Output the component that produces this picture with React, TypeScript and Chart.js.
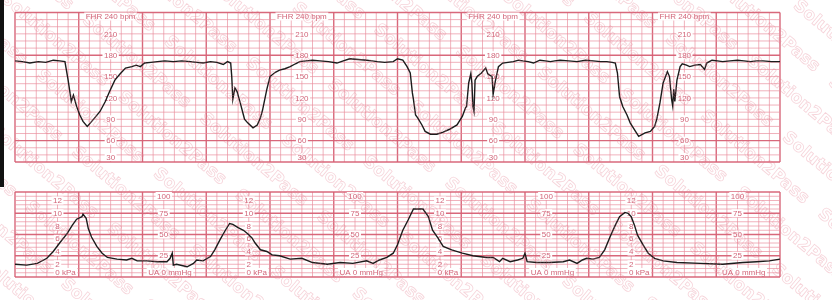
import React, { useEffect, useRef } from "react";
import { Chart, registerables } from "chart.js";
Chart.register(...registerables);

// ---- FHR (fetal heart rate) trace: time in seconds, value in bpm ----
const fhrSeconds = [
  0, 7, 14, 22, 29, 36, 42, 47, 50, 53, 55, 58, 61, 64, 68, 71, 75, 80, 85, 89, 94, 99, 104, 110, 114, 118,
  122, 128, 134, 141, 149, 157, 165, 171, 177, 184, 190, 196, 200, 203, 204, 205, 207, 209, 212, 215, 216,
  219, 224, 228, 231, 233, 237, 240, 245, 249, 254, 259, 264, 268, 274, 280, 287, 295, 303, 309, 315, 323,
  331, 336, 341, 348, 356, 360, 365, 369, 372, 374, 375, 377, 379, 383, 386, 391, 397, 403, 409, 416, 421,
  424, 425, 427, 429, 430, 431, 432, 433, 435, 439, 443, 445, 449, 450, 452, 455, 459, 464, 469, 474, 478,
  483, 488, 494, 499, 504, 508, 513, 521, 529, 537, 544, 551, 557, 562, 565, 567, 569, 572, 576, 579, 584,
  587, 593, 598, 602, 604, 607, 610, 614, 616, 618, 619, 620, 621, 623, 626, 628, 632, 635, 640, 645, 649,
  651, 656, 661, 666, 673, 680, 686, 692, 698, 704, 712, 720,
];
const fhrBpm = [
  172, 171, 169, 171, 170, 173, 172, 171, 145, 115, 124, 108, 96, 87, 80, 85, 92, 101, 115, 129, 145, 154, 162, 164, 166, 164,
  169, 170, 171, 172, 171, 172, 171, 170, 169, 171, 170, 167, 171, 169, 150, 118, 134, 129, 113, 96, 90,
  85, 78, 82, 92, 103, 132, 150, 156, 159, 161, 164, 168, 171, 172, 173, 172, 171, 169, 172, 175, 174,
  173, 172, 171, 170, 171, 175, 173, 164, 155, 127, 118, 96, 92, 82, 73, 69, 69, 72, 76, 82, 94,
  106, 108, 141, 154, 141, 108, 101, 145, 150, 155, 162, 154, 150, 125, 143, 164, 169, 170, 171, 173, 172,
  171, 169, 173, 172, 171, 172, 173, 172, 171, 173, 172, 171, 171, 170, 169, 155, 122, 108, 96, 85, 73,
  66, 71, 73, 80, 90, 113, 141, 157, 150, 118, 109, 132, 115, 145, 164, 168, 166, 164, 166, 167, 160,
  169, 173, 172, 171, 172, 173, 172, 171, 172, 172, 171, 171,
];

// ---- UA (uterine activity) trace: time in seconds, value in mmHg ----
const uaSeconds = [
  0, 11, 21, 30, 36, 42, 49, 54, 58, 63, 64, 67, 69, 72, 77, 82, 87, 96, 105, 110, 115, 124, 134, 143, 146,
  148, 149, 152, 162, 168, 171, 177, 184, 188, 193, 198, 202, 205, 210, 215, 219, 223, 226, 231, 237, 242,
  249, 259, 270, 280, 294, 306, 318, 331, 337, 343, 350, 356, 360, 365, 370, 375, 384, 389, 393, 398, 403,
  411, 421, 431, 444, 450, 456, 459, 466, 473, 478, 480, 482, 491, 503, 516, 522, 529, 534, 538, 544, 550,
  555, 560, 565, 569, 574, 577, 580, 583, 586, 591, 596, 602, 610, 623, 645, 666, 685, 698, 710, 720,
];
const uaMmHg = [
  15, 14, 16, 22, 30, 40, 51, 61, 68, 71, 74, 69, 57, 47, 36, 28, 23, 21, 20, 22, 19, 19, 18, 18, 22,
  28, 14, 15, 12, 16, 20, 19, 24, 32, 44, 55, 63, 62, 58, 55, 51, 46, 40, 32, 30, 26,
  25, 21, 22, 17, 15, 17, 16, 19, 16, 20, 23, 28, 38, 55, 67, 80, 80, 71, 55, 46, 36,
  32, 28, 25, 23, 23, 18, 22, 18, 20, 22, 28, 18, 17, 17, 18, 20, 16, 20, 22, 21, 23,
  32, 47, 61, 71, 76, 75, 71, 61, 49, 38, 28, 22, 19, 17, 16, 15, 17, 18, 19, 21,
];

// ---- tick labels printed on the paper ----
const fhrTickLabels = [210, 180, 150, 120, 90, 60];
const fhrLabelColumns = [90, 270, 450, 630];
const kpaTickLabels = [12, 10, 8, 6, 4, 2];
const kpaLabelColumns = [40, 220, 400, 580];
const mmHgTickLabels = [75, 50, 25];
const mmHgLabelColumns = [140, 320, 500, 680];

const THIN = "rgba(232,140,155,0.75)";
const THICK = "rgba(214,96,116,0.95)";
const LABEL = "#d2667a";
const FONT = '8px "Liberation Sans", Arial, sans-serif';

function label(ctx: CanvasRenderingContext2D, text: string, cx: number, cy: number, anchor?: string) {
  ctx.font = FONT;
  const w = ctx.measureText(text).width;
  let left = cx - w / 2;
  if (anchor) {
    const idx = text.indexOf(anchor);
    const pre = ctx.measureText(text.slice(0, idx)).width;
    const aw = ctx.measureText(anchor).width;
    left = cx - pre - aw / 2;
  }
  ctx.fillStyle = "#ffffff";
  ctx.fillRect(left - 1.5, cy - 4, w + 3, 8);
  ctx.fillStyle = LABEL;
  ctx.textBaseline = "middle";
  ctx.textAlign = "left";
  ctx.fillText(text, left, cy + 0.5);
}

function drawGrid(chart: any, hStep: number, thickH: number[]) {
  const { ctx, chartArea: a, scales } = chart;
  const x = scales.x;
  const y = scales.y;
  ctx.save();
  ctx.fillStyle = "#ffffff";
  ctx.fillRect(a.left, a.top, a.right - a.left, a.bottom - a.top);
  // vertical
  for (let s = 0; s <= 720; s += 10) {
    const px = x.getPixelForValue(s);
    const thick = s % 60 === 0;
    ctx.strokeStyle = thick ? THICK : THIN;
    ctx.lineWidth = thick ? 1.4 : 0.9;
    ctx.beginPath();
    ctx.moveTo(px, a.top);
    ctx.lineTo(px, a.bottom);
    ctx.stroke();
  }
  // horizontal
  for (let v = y.min; v <= y.max + 0.001; v += hStep) {
    const py = y.getPixelForValue(v);
    const thick = thickH.includes(v) || v === y.min || v === y.max;
    ctx.strokeStyle = thick ? THICK : THIN;
    ctx.lineWidth = thick ? 1.4 : 0.9;
    ctx.beginPath();
    ctx.moveTo(a.left, py);
    ctx.lineTo(a.right, py);
    ctx.stroke();
  }
  ctx.restore();
}

const fhrPaper = {
  id: "fhrPaper",
  beforeDatasetsDraw(chart: any) {
    drawGrid(chart, 10, [60, 180]);
    const { ctx, scales } = chart;
    const x = scales.x;
    const y = scales.y;
    ctx.save();
    for (const c of fhrLabelColumns) {
      const cx = x.getPixelForValue(c);
      label(ctx, "FHR 240 bpm", cx, y.getPixelForValue(240) + 4);
      for (const v of fhrTickLabels) label(ctx, String(v), cx, y.getPixelForValue(v));
      label(ctx, "30", cx, y.getPixelForValue(30) - 5);
    }
    ctx.restore();
  },
};

const uaPaper = {
  id: "uaPaper",
  beforeDatasetsDraw(chart: any) {
    drawGrid(chart, 5, [25, 50, 75]);
    const { ctx, scales } = chart;
    const x = scales.x;
    const y = scales.y;
    ctx.save();
    for (const c of kpaLabelColumns) {
      const cx = x.getPixelForValue(c);
      for (const k of kpaTickLabels) label(ctx, String(k), cx, y.getPixelForValue(k * 7.5));
      label(ctx, "0 kPa", cx, y.getPixelForValue(0) - 5, "0");
    }
    for (const c of mmHgLabelColumns) {
      const cx = x.getPixelForValue(c);
      label(ctx, "100", cx, y.getPixelForValue(100) + 4);
      for (const m of mmHgTickLabels) label(ctx, String(m), cx, y.getPixelForValue(m));
      label(ctx, "UA 0 mmHg", cx, y.getPixelForValue(0) - 5, "0");
    }
    ctx.restore();
  },
};

function makeChart(canvas: HTMLCanvasElement, xs: number[], ys: number[], yMin: number, yMax: number, padding: any, plugin: any) {
  return new Chart(canvas, {
    type: "line",
    data: {
      datasets: [
        {
          data: xs.map((s, i) => ({ x: s, y: ys[i] })),
          borderColor: "#1c1c1c",
          borderWidth: 1.4,
          pointRadius: 0,
          tension: 0,
          fill: false,
        },
      ],
    },
    options: {
      animation: false,
      responsive: false,
      devicePixelRatio: 1,
      layout: { padding },
      plugins: { legend: { display: false }, tooltip: { enabled: false } },
      scales: {
        x: { type: "linear", min: 0, max: 720, display: false },
        y: { type: "linear", min: yMin, max: yMax, display: false },
      },
    },
    plugins: [plugin],
  });
}

function drawWatermark(canvas: HTMLCanvasElement) {
  const ctx = canvas.getContext("2d")!;
  ctx.clearRect(0, 0, canvas.width, canvas.height);
  ctx.save();
  ctx.font = 'bold 17px "DejaVu Sans", sans-serif';
  ctx.strokeStyle = "rgba(228,120,140,0.32)";
  ctx.lineWidth = 0.8;
  ctx.rotate((40 * Math.PI) / 180);
  const word = "Solution2Pass";
  const w = ctx.measureText(word + "   ").width;
  for (let r = -30; r < 30; r++) {
    for (let c = -3; c < 10; c++) {
      ctx.strokeText(word, c * w + (r % 2) * w * 0.5, r * 36);
    }
  }
  ctx.restore();
}

export default function App() {
  const topRef = useRef<HTMLCanvasElement>(null);
  const botRef = useRef<HTMLCanvasElement>(null);
  const wmRef = useRef<HTMLCanvasElement>(null);

  useEffect(() => {
    const top = makeChart(topRef.current!, fhrSeconds, fhrBpm, 30, 240, { left: 15, right: 52, top: 12.5, bottom: 13 }, fhrPaper);
    const bot = makeChart(botRef.current!, uaSeconds, uaMmHg, 0, 100, { left: 15, right: 52, top: 17, bottom: 23 }, uaPaper);
    if (wmRef.current) drawWatermark(wmRef.current);
    return () => {
      top.destroy();
      bot.destroy();
    };
  }, []);

  return (
    <div style={{ position: "absolute", left: 0, top: 0, width: 832, height: 300, background: "#fff", overflow: "hidden" }}>
      <canvas ref={topRef} width={832} height={175} style={{ position: "absolute", left: 0, top: 0, width: 832, height: 175 }} />
      <canvas ref={botRef} width={832} height={125} style={{ position: "absolute", left: 0, top: 175, width: 832, height: 125 }} />
      <canvas ref={wmRef} width={832} height={300} style={{ position: "absolute", left: 0, top: 0, width: 832, height: 300, pointerEvents: "none" }} />
      <div style={{ position: "absolute", left: 0, top: 0, width: 4, height: 187, background: "#111" }} />
    </div>
  );
}
